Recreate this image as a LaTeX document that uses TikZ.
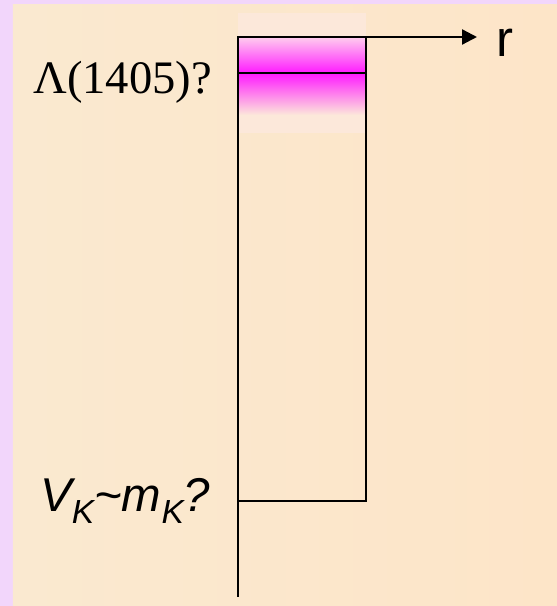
\documentclass[tikz,border=0pt]{standalone}
\usepackage{fontspec}
\setmainfont{Liberation Serif}
\setsansfont{Liberation Sans}
\definecolor{lilac}{HTML}{F2D6FB}
\definecolor{sandc}{HTML}{FDE5C8}
\definecolor{sandl}{HTML}{FAE9D0}
\definecolor{palec}{HTML}{FCE8DA}
\definecolor{pinkc}{HTML}{FFCDEE}
\definecolor{magc}{HTML}{FF1AFF}
\usetikzlibrary{arrows.meta}
\tikzset{
  >={Triangle[length=3mm,width=3mm]},
  wall/.style={draw=black,line width=1.3pt},
  lbl/.style={inner sep=0pt,anchor=base west},
}
\newcommand{\subk}{\raisebox{-0.24em}{\fontsize{19}{19}\selectfont K}}
\begin{document}
\begin{tikzpicture}
  \fill[lilac] (0,0) rectangle (11.14,12.12);
  \shade[left color=sandl,right color=sandc] (0.26,0) rectangle (11.14,12.02);
  % resonance band
  \fill[palec] (4.76,9.46) rectangle (7.32,11.86);
  \shade[top color=pinkc,bottom color=magc] (4.76,10.66) rectangle (7.32,11.38);
  \shade[top color=magc,bottom color=palec] (4.76,9.82) rectangle (7.32,10.66);
  % well
  \coordinate (o) at (4.76,11.38);
  \coordinate (tip) at (9.54,11.38);
  \coordinate (end) at (4.76,0.18);
  \coordinate (top) at (7.32,11.38);
  \coordinate (bot) at (7.32,2.10);
  \coordinate (base) at (4.76,2.10);
  \coordinate (lamL) at (4.76,10.66);
  \coordinate (lamR) at (7.32,10.66);
  \draw[wall,<-] (tip) -- (o) -- (end);
  \draw[wall] (top) -- (bot) -- (base);
  \draw[wall] (lamL) -- (lamR);
  \node[lbl,font=\sffamily\fontsize{29}{29}\selectfont] (r) at (9.92,10.98) {r};
  \node[lbl,font=\fontsize{26.5}{27}\selectfont] (lam) at (0.66,10.24) {Λ(1405)?};
  \node[lbl,font=\sffamily\itshape\fontsize{27}{27}\selectfont] (vk) at (0.80,1.88) {V\subk\textasciitilde m\subk?};
\end{tikzpicture}
\end{document}
